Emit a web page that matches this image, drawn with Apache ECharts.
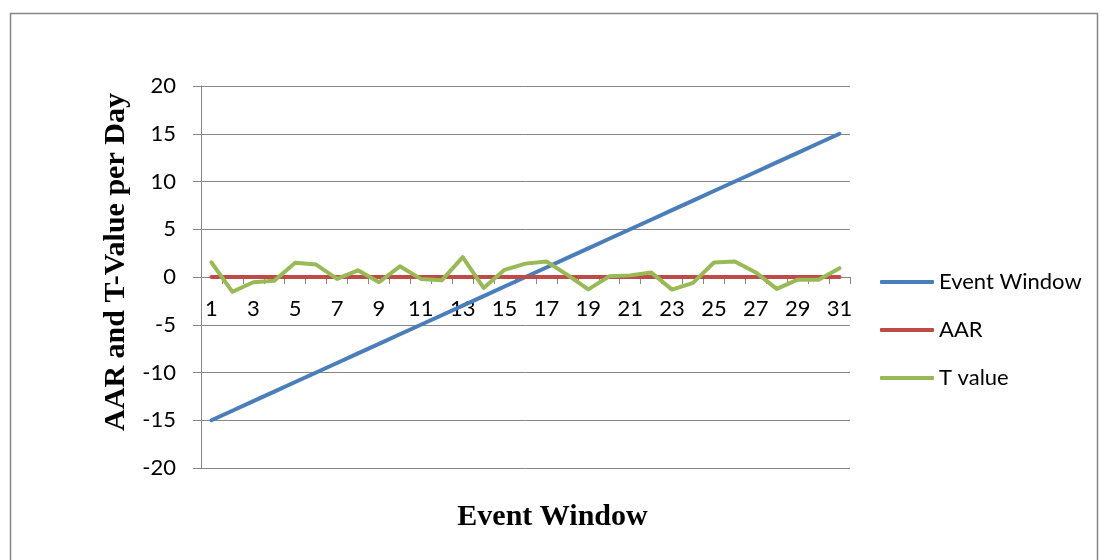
<!DOCTYPE html>
<html>
<head>
<meta charset="utf-8">
<script src="https://cdn.jsdelivr.net/npm/echarts@6/dist/echarts.min.js"></script>
<style>
  html, body { margin: 0; padding: 0; background: #ffffff; }
  #chart { width: 1100px; height: 560px; }
</style>
</head>
<body>
<div id="chart"></div>
<script>
// Days of the event window
const days = Array.from({ length: 31 }, (_, i) => String(i + 1));

// Event window position (-15 .. +15)
const eventWindow = [-15, -14, -13, -12, -11, -10, -9, -8, -7, -6, -5, -4, -3, -2, -1, 0,
  1, 2, 3, 4, 5, 6, 7, 8, 9, 10, 11, 12, 13, 14, 15];

// Average abnormal return per day
const aar = [0.01, -0.01, 0.0, 0.0, 0.01, 0.01, 0.0, 0.0, -0.01, 0.01, 0.0, 0.0, 0.01, -0.01, 0.0, 0.01,
  0.01, 0.0, -0.01, 0.0, 0.0, 0.0, -0.01, 0.0, 0.01, 0.01, 0.0, -0.01, 0.0, 0.0, 0.0];

// t statistic per day
const tValue = [1.52, -1.55, -0.55, -0.4, 1.5, 1.3, -0.2, 0.7, -0.55, 1.12, -0.2, -0.35, 2.08, -1.15, 0.75, 1.4,
  1.62, 0.22, -1.3, 0.07, 0.17, 0.48, -1.32, -0.62, 1.52, 1.62, 0.48, -1.25, -0.28, -0.28, 0.92];

// Value axis ticks
const yMin = -20, yMax = 20, yStep = 5;

const axisGray = '#868686';
const sans = 'Lato, "Open Sans", "Liberation Sans", sans-serif';
const serif = '"Liberation Serif", "DejaVu Serif", serif';

const gridTop = 86, gridBottom = 92, chartHeight = 560;
const plotHeight = chartHeight - gridTop - gridBottom;
// Category axis sits on the zero line of the value axis
const zeroOffset = -plotHeight * (0 - yMin) / (yMax - yMin);

const chart = echarts.init(document.getElementById('chart'));
chart.setOption({
  animation: false,
  backgroundColor: '#ffffff',
  graphic: [{
    type: 'rect',
    shape: { x: 10.5, y: 13.5, width: 1087, height: 560 },
    style: { fill: 'none', stroke: axisGray, lineWidth: 1.5 },
    silent: true
  }],
  grid: { left: 201, right: 250, top: gridTop, bottom: gridBottom, containLabel: false, outerBoundsMode: 'none' },
  legend: {
    orient: 'vertical',
    left: 875,
    top: 266,
    itemWidth: 54,
    itemHeight: 4,
    itemGap: 26,
    icon: 'roundRect',
    textStyle: { fontFamily: sans, fontSize: 22, color: '#000' },
    data: ['Event Window', 'AAR', 'T value']
  },
  xAxis: {
    type: 'category',
    data: days,
    boundaryGap: true,
    offset: zeroOffset,
    name: 'Event Window',
    nameLocation: 'middle',
    nameGap: 225,
    nameTextStyle: { fontFamily: serif, fontWeight: 'bold', fontSize: 30, color: '#000', padding: [0, 0, 0, 54] },
    axisLine: { onZero: false, lineStyle: { color: axisGray, width: 1 } },
    axisTick: { show: true, interval: 0, length: 7, lineStyle: { color: axisGray } },
    axisLabel: { interval: 1, margin: 21, fontFamily: sans, fontSize: 22, color: '#000' },
    splitLine: { show: false }
  },
  yAxis: {
    type: 'value',
    min: yMin,
    max: yMax,
    interval: yStep,
    name: 'AAR and T-Value per Day',
    nameLocation: 'middle',
    nameGap: 69,
    nameRotate: 90,
    nameTextStyle: { fontFamily: serif, fontWeight: 'bold', fontSize: 30, color: '#000', padding: [0, 0, 0, 30] },
    axisLine: { show: true, lineStyle: { color: axisGray, width: 1 } },
    axisTick: { show: true, length: 8, inside: false, lineStyle: { color: axisGray } },
    axisLabel: { margin: 25, fontFamily: sans, fontSize: 22, color: '#000' },
    splitLine: { show: true, lineStyle: { color: axisGray, width: 1 } }
  },
  series: [
    {
      name: 'Event Window', type: 'line', data: eventWindow,
      symbol: 'none', lineStyle: { color: '#4A7EBB', width: 4, cap: 'round' },
      itemStyle: { color: '#4A7EBB' }
    },
    {
      name: 'AAR', type: 'line', data: aar,
      symbol: 'none', lineStyle: { color: '#BE4B48', width: 4, cap: 'round' },
      itemStyle: { color: '#BE4B48' }
    },
    {
      name: 'T value', type: 'line', data: tValue,
      symbol: 'none', lineStyle: { color: '#98B954', width: 4, cap: 'round', join: 'round' },
      itemStyle: { color: '#98B954' }
    }
  ]
});
</script>
</body>
</html>
